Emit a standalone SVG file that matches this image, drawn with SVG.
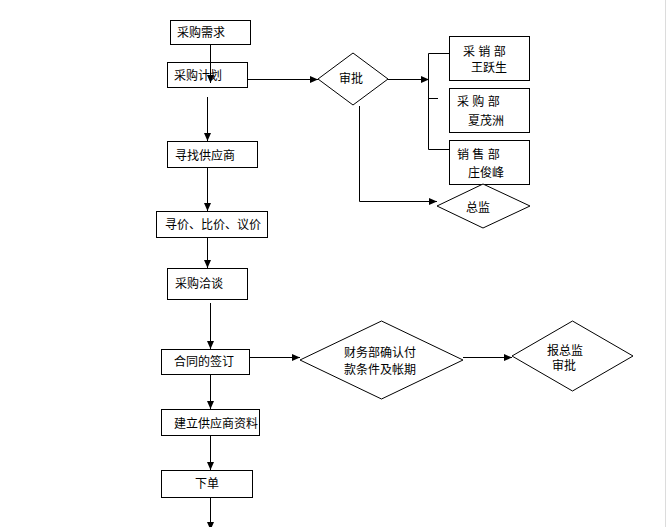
<svg xmlns="http://www.w3.org/2000/svg" width="667" height="527" viewBox="0 0 667 527">
<defs>
<marker id="ah" markerUnits="userSpaceOnUse" markerWidth="9" markerHeight="8" refX="8" refY="4" orient="auto">
<path d="M0,0.5 L8,4 L0,7.5 Z" fill="#000"/>
</marker>
<style>
.n{fill:#fff;stroke:#000;stroke-width:1}
.t{font-family:"Liberation Sans","Noto Sans CJK SC",sans-serif;font-size:12px;fill:#000}
.c{fill:none;stroke:#000;stroke-width:1}
.a{marker-end:url(#ah)}
</style>
</defs>
<rect width="667" height="527" fill="#fff"/>
<line x1="665.5" y1="0" x2="665.5" y2="527" stroke="#dcdcdc"/>
<g id="n1"><rect class="n" x="170.5" y="20.5" width="80" height="24"/><text class="t" x="177" y="37">采购需求</text></g>
<g id="n2"><rect class="n" x="167.5" y="62.5" width="80" height="25"/><text class="t" x="174" y="80">采购计划</text></g>
<g id="n3"><path class="n" d="M318,79 L353,53 L388,79 L353,105 Z"/><text class="t" x="339" y="83">审批</text></g>
<g id="n4"><rect class="n" x="449.5" y="36.5" width="80" height="44"/><text class="t" x="463" y="56">采 销 部</text><text class="t" x="471" y="72">王跃生</text></g>
<g id="n5"><rect class="n" x="449.5" y="88.5" width="80" height="44"/><text class="t" x="457" y="106">采 购 部</text><text class="t" x="468" y="125">夏茂洲</text></g>
<g id="n6"><rect class="n" x="449.5" y="140.5" width="80" height="44"/><text class="t" x="457" y="159">销 售 部</text><text class="t" x="468" y="177">庄俊峰</text></g>
<g id="n7"><path class="n" d="M437,206 L483,184 L530,206 L483,228 Z"/><text class="t" x="466" y="212">总监</text></g>
<g id="n8"><rect class="n" x="167.5" y="141.5" width="90" height="26"/><text class="t" x="175" y="160">寻找供应商</text></g>
<g id="n9"><rect class="n" x="156.5" y="211.5" width="111" height="26"/><text class="t" x="165" y="229">寻价、比价、议价</text></g>
<g id="n10"><rect class="n" x="167.5" y="268.5" width="80" height="31"/><text class="t" x="175" y="288">采购洽谈</text></g>
<g id="n11"><rect class="n" x="161.5" y="349.5" width="88" height="25"/><text class="t" x="174" y="366">合同的签订</text></g>
<g id="n12"><path class="n" d="M300,360 L381.5,321 L463,360 L381.5,399 Z"/><text class="t" x="380" y="357" text-anchor="middle">财务部确认付</text><text class="t" x="380" y="374" text-anchor="middle">款条件及帐期</text></g>
<g id="n13"><path class="n" d="M512,356 L572.5,321 L633,356 L572.5,391 Z"/><text class="t" x="547" y="355">报总监</text><text class="t" x="552" y="370">审批</text></g>
<g id="n14"><rect class="n" x="161.5" y="409.5" width="98" height="26"/><text class="t" x="174" y="428">建立供应商资料</text></g>
<g id="n15"><rect class="n" x="161.5" y="470.5" width="91" height="27"/><text class="t" x="195" y="488">下单</text></g>
<g id="connectors">
<line class="c a" x1="210.5" y1="44" x2="210.5" y2="83"/>
<line class="c a" x1="248" y1="79.5" x2="318" y2="79.5"/>
<line class="c a" x1="207.5" y1="97" x2="207.5" y2="141"/>
<line class="c a" x1="388" y1="79.5" x2="429" y2="79.5"/>
<polyline class="c" points="449,53.5 428.5,53.5 428.5,149.5 449,149.5"/>
<line class="c" x1="428.5" y1="98.5" x2="438" y2="98.5"/>
<polyline class="c a" points="359.5,106 359.5,201.5 437,201.5"/>
<line class="c a" x1="207.5" y1="167" x2="207.5" y2="211"/>
<line class="c a" x1="207.5" y1="237" x2="207.5" y2="268"/>
<line class="c a" x1="210.5" y1="303" x2="210.5" y2="349"/>
<line class="c a" x1="249" y1="357.5" x2="300" y2="357.5"/>
<line class="c a" x1="463" y1="357.5" x2="512" y2="357.5"/>
<line class="c a" x1="210.5" y1="375" x2="210.5" y2="409"/>
<line class="c a" x1="210.5" y1="435" x2="210.5" y2="470"/>
<line class="c a" x1="210.5" y1="497" x2="210.5" y2="530"/>
</g>
</svg>
